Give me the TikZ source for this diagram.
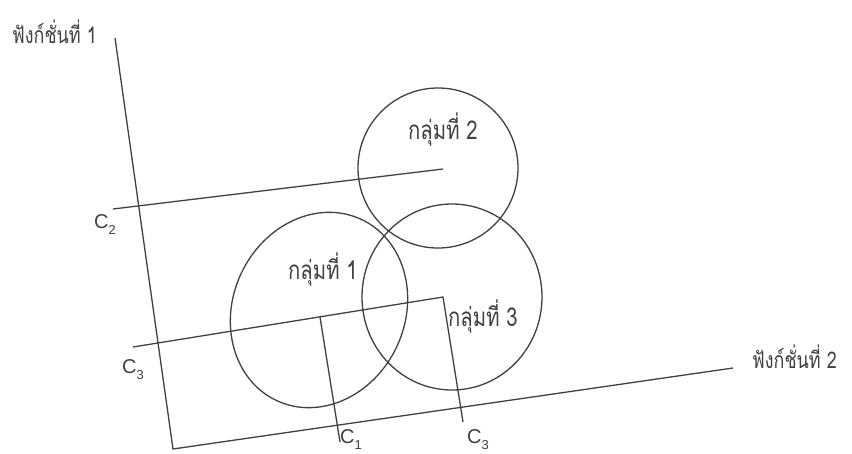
\documentclass[tikz,border=0pt]{standalone}
\usepackage{fontspec}
\setmainfont{Liberation Sans}
\newfontfamily\thaifont[Script=Thai, FakeStretch=0.78]{Loma}
\begin{document}
\begin{tikzpicture}[x=1pt,y=-1pt]
\tikzset{
  ln/.style={line width=1.3pt, draw=black!75},
  thai/.style={font=\thaifont\fontsize{23}{26}\selectfont, text=black!75, inner sep=0pt},
  grp/.style={font=\thaifont\fontsize{26}{30}\selectfont, text=black!75, inner sep=0pt},
  cl/.style={font=\fontsize{20}{22}\selectfont, text=black!75, inner sep=0pt}
}
\useasboundingbox (0,0) rectangle (852,453);
% axes
\coordinate (O) at (173,449);
\coordinate (Ytop) at (115,38);
\coordinate (Xend) at (733,368);
\draw[ln] (Ytop) -- (O) -- (Xend);
% C2 line
\coordinate (c2a) at (113,209);
\coordinate (c2b) at (443,169);
\draw[ln] (c2a) -- (c2b);
% C3 bracket
\coordinate (c3a) at (133,347);
\coordinate (c3b) at (443,297);
\coordinate (c3c) at (463,422);
\draw[ln] (c3a) -- (c3b) -- (c3c);
% C1 line
\coordinate (c1a) at (320,317);
\coordinate (c1b) at (340,442);
\draw[ln] (c1a) -- (c1b);
% groups
\draw[ln] (438,168) circle[radius=80pt];
\draw[ln, rotate around={65:(319,310)}] (319,310) ellipse[x radius=100pt, y radius=86pt];
\draw[ln] (452,297) ellipse[x radius=90pt, y radius=93pt];
% labels
\node[thai, anchor=base west] (f1) at (12,43) {ฟังก์ชั่นที่ 1};
\node[thai, anchor=base west] (f2) at (752,368) {ฟังก์ชั่นที่ 2};
\node[grp, anchor=base west] (g2) at (408,139) {กลุ่มที่ 2};
\node[grp, anchor=base west] (g1) at (288,279) {กลุ่มที่ 1};
\node[grp, anchor=base west] (g3) at (448,326) {กลุ่มที่ 3};
\node[cl, anchor=base west] (lc2) at (94,228) {C\raisebox{-0.3em}{\fontsize{13}{14}\selectfont 2}};
\node[cl, anchor=base west] (lc3a) at (122,373) {C\raisebox{-0.3em}{\fontsize{13}{14}\selectfont 3}};
\node[cl, anchor=base west] (lc1) at (340,443) {C\raisebox{-0.3em}{\fontsize{13}{14}\selectfont 1}};
\node[cl, anchor=base west] (lc3b) at (467,443) {C\raisebox{-0.3em}{\fontsize{13}{14}\selectfont 3}};
\end{tikzpicture}
\end{document}
